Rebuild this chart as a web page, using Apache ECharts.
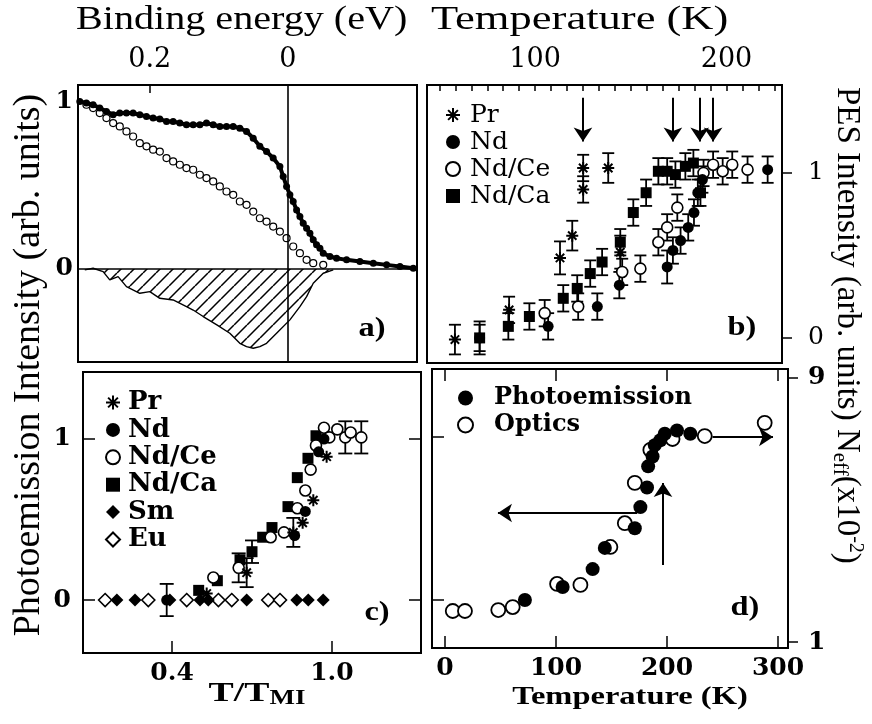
<!DOCTYPE html>
<html>
<head>
<meta charset="utf-8">
<script src="https://cdn.jsdelivr.net/npm/echarts@6/dist/echarts.min.js"></script>
<style>
  html, body { margin: 0; padding: 0; background: #fff; }
  #chart { width: 872px; height: 724px; }
</style>
</head>
<body>
<div id="chart"></div>
<script>
const TITLE_FONT = '"Liberation Serif", "Times New Roman", serif';
const LABEL_FONT = '"DejaVu Serif", serif';

// ---------- Panel a: spectra vs binding energy (eV) ----------
const aFilledE = [0.3014,0.2918,0.2821,0.2725,0.2628,0.2531,0.2435,0.2338,0.2242,0.2145,0.2048,0.1952,0.1855,0.1758,0.1662,0.1565,0.1469,0.1372,0.1275,0.1179,0.1082,0.0986,0.0889,0.0792,0.0696,0.0599,0.0502,0.0406,0.0309,0.0213,0.0116,0.0068,0.0019,-0.0029,-0.0077,-0.0126,-0.0174,-0.0222,-0.0271,-0.0319,-0.0367,-0.0415,-0.0464,-0.0512,-0.0609,-0.0705,-0.0850,-0.1043,-0.1237,-0.1430,-0.1623,-0.1816];
const aFilledI = [1.002,0.992,0.982,0.962,0.942,0.922,0.932,0.932,0.932,0.922,0.912,0.902,0.896,0.882,0.882,0.872,0.862,0.862,0.862,0.872,0.862,0.852,0.852,0.852,0.842,0.822,0.782,0.733,0.702,0.663,0.613,0.553,0.493,0.443,0.403,0.353,0.313,0.273,0.243,0.213,0.174,0.144,0.124,0.094,0.074,0.064,0.054,0.044,0.034,0.024,0.014,0.004];
const aOpenE = [0.2918,0.2821,0.2725,0.2628,0.2531,0.2435,0.2338,0.2242,0.2145,0.2048,0.1952,0.1855,0.1758,0.1662,0.1565,0.1469,0.1372,0.1275,0.1179,0.1082,0.0986,0.0889,0.0792,0.0696,0.0599,0.0502,0.0406,0.0309,0.0213,0.0116,0.0019,-0.0077,-0.0174,-0.0271,-0.0367,-0.0512];
const aOpenI = [0.982,0.962,0.932,0.902,0.872,0.852,0.822,0.792,0.752,0.733,0.713,0.702,0.663,0.643,0.623,0.603,0.593,0.563,0.543,0.523,0.493,0.463,0.443,0.403,0.383,0.343,0.303,0.283,0.253,0.223,0.184,0.134,0.094,0.054,0.034,0.024];
const aDiffE = [0.2942,0.2821,0.2676,0.2580,0.2459,0.2338,0.2145,0.2000,0.1855,0.1662,0.1469,0.1372,0.1227,0.1029,0.0841,0.0696,0.0599,0.0502,0.0406,0.0309,0.0164,-0.0029,-0.0174,-0.0271,-0.0367,-0.0512,-0.0657];
const aDiffI = [-0.006,0.004,-0.016,-0.066,-0.046,-0.106,-0.146,-0.136,-0.176,-0.186,-0.226,-0.246,-0.285,-0.335,-0.385,-0.445,-0.465,-0.475,-0.465,-0.445,-0.385,-0.305,-0.226,-0.166,-0.086,-0.026,-0.006];
const aTopLabels = [0.2, 0];
const aLeftLabels = [0, 1];

// ---------- Panel b: PES intensity vs temperature (K) ----------
const bPrT = [58.1, 86.4, 113, 119.4, 125.1, 125.1, 138.2, 144.5];
const bPrI = [-0.01, 0.17, 0.485, 0.62, 1.03, 0.90, 1.03, 0.52];
const bPrE = [0.09, 0.08, 0.10, 0.09, 0.08, 0.08, 0.09, 0.10];
const bNdT = [71, 106.8, 132.5, 144, 169, 172, 176, 180, 183, 185, 187.4, 221.5];
const bNdI = [0.0, 0.07, 0.19, 0.32, 0.43, 0.53, 0.59, 0.67, 0.76, 0.88, 0.96, 1.02];
const bNdE = [0.10, 0.08, 0.08, 0.08, 0.10, 0.08, 0.08, 0.08, 0.08, 0.08, 0.08, 0.08];
const bNdCeT = [105, 122.5, 145.5, 155, 164.4, 169, 174.3, 188, 193, 198, 203, 211];
const bNdCeI = [0.15, 0.19, 0.40, 0.42, 0.58, 0.67, 0.79, 1.0, 1.05, 1.01, 1.05, 1.02];
const bNdCeE = [0.08, 0.08, 0.08, 0.08, 0.08, 0.08, 0.08, 0.08, 0.08, 0.08, 0.08, 0.08];
const bNdCaT = [71, 86, 97, 114.7, 122, 128.8, 135, 144.5, 151.3, 158, 164.4, 169, 173.3, 178.5, 182.7, 186.4];
const bNdCaI = [0.0, 0.07, 0.13, 0.24, 0.30, 0.39, 0.46, 0.58, 0.76, 0.88, 1.01, 1.01, 0.99, 1.04, 1.06, 0.88];
const bNdCaE = [0.08, 0.08, 0.08, 0.08, 0.08, 0.08, 0.08, 0.08, 0.08, 0.08, 0.08, 0.08, 0.08, 0.08, 0.08, 0.08];
const bTransitionT = [125, 172, 186, 193];
const bTopLabels = [100, 200];
const bRightLabels = [0, 1];

// ---------- Panel c: intensity vs reduced temperature T/T_MI ----------
const cPrX = [0.53, 0.68, 0.855, 0.89, 0.93, 0.98];
const cPrI = [0.04, 0.17, 0.42, 0.48, 0.62, 0.89];
const cPrE = [0, 0.09, 0.09, 0, 0, 0];
const cNdX = [0.38, 0.86, 0.90, 0.95, 0.97];
const cNdI = [0.0, 0.40, 0.55, 0.92, 1.0];
const cNdE = [0.10, 0, 0, 0, 0];
const cNdCeX = [0.555, 0.65, 0.77, 0.82, 0.87, 0.90, 0.92, 0.94, 0.97, 0.99, 1.02, 1.05, 1.07, 1.11];
const cNdCeI = [0.14, 0.20, 0.39, 0.42, 0.57, 0.68, 0.81, 0.96, 1.07, 1.01, 1.06, 1.01, 1.04, 1.01];
const cNdCeE = [0, 0.09, 0, 0, 0, 0, 0, 0, 0, 0, 0, 0.10, 0, 0.10];
const cNdCaX = [0.50, 0.57, 0.655, 0.70, 0.74, 0.775, 0.835, 0.87, 0.91, 0.94];
const cNdCaI = [0.06, 0.12, 0.25, 0.30, 0.39, 0.45, 0.58, 0.76, 0.88, 1.02];
const cNdCaE = [0, 0, 0, 0.07, 0, 0, 0, 0, 0, 0];
const cSmX = [0.193, 0.261, 0.392, 0.505, 0.536, 0.680, 0.868, 0.911, 0.967];
const cSmI = [0, 0, 0, 0, 0, 0, 0, 0, 0];
const cEuX = [0.149, 0.311, 0.455, 0.574, 0.624, 0.761, 0.805];
const cEuI = [0, 0, 0, 0, 0, 0, 0];
const cBottomLabels = [0.4, 1.0];
const cLeftLabels = [0, 1];

// ---------- Panel d: photoemission and optical N_eff vs temperature ----------
const dPhotoT = [72, 106, 133, 144, 171, 176, 182, 183, 187, 189, 194, 198, 209, 221];
const dPhotoI = [0.0, 0.08, 0.19, 0.32, 0.44, 0.57, 0.69, 0.82, 0.88, 0.95, 0.98, 1.02, 1.04, 1.02];
const dOptT = [7, 18, 48, 61, 101, 122, 149, 162, 171, 185, 205, 234, 288];
const dOptN = [1.94, 1.94, 1.97, 2.06, 2.76, 2.73, 3.88, 4.6, 5.82, 6.82, 7.15, 7.24, 7.64];
const dBottomLabels = [0, 100, 200, 300];
const dRightLabels = [1, 9];
// arrows: [T start, value start, T end, value end] in photoemission units
const dArrows = [[173, 0.534, 47.7, 0.534], [196.4, 0.215, 196.4, 0.718], [241, 1.0, 295.5, 1.0]];

// ---------- helpers ----------
const pairs = (xs, ys) => xs.map((x, i) => [x, ys[i]]);
const triples = (xs, ys, es) => xs.map((x, i) => [x, ys[i], es[i]]).filter(d => d[2] > 0);

function hatchPattern(step) {
  const c = document.createElement('canvas');
  c.width = step; c.height = step;
  const g = c.getContext('2d');
  g.strokeStyle = '#000'; g.lineWidth = 1.5;
  g.beginPath();
  for (let k = -1; k <= 1; k++) { g.moveTo(k * step, step); g.lineTo(k * step + step, 0); }
  g.stroke();
  return c;
}

function errorBars(capHalf) {
  return function (params, api) {
    const x = api.value(0), y = api.value(1), e = api.value(2);
    const lo = api.coord([x, y - e]), hi = api.coord([x, y + e]);
    const st = { stroke: '#000', lineWidth: 1.8 };
    return { type: 'group', children: [
      { type: 'line', shape: { x1: lo[0], y1: lo[1], x2: hi[0], y2: hi[1] }, style: st },
      { type: 'line', shape: { x1: lo[0] - capHalf, y1: lo[1], x2: lo[0] + capHalf, y2: lo[1] }, style: st },
      { type: 'line', shape: { x1: hi[0] - capHalf, y1: hi[1], x2: hi[0] + capHalf, y2: hi[1] }, style: st }
    ]};
  };
}

const STAR = 'path://M0,-10L0,10M-10,0L10,0M-7,-7L7,7M-7,7L7,-7';
const BLACK = { color: '#000', opacity: 1 };
const OPEN = { color: '#fff', borderColor: '#000', borderWidth: 1.6, opacity: 1 };
const STARSTYLE = { color: '#000', borderColor: '#000', borderWidth: 2, opacity: 1 };

function mk(name, type, xi, yi, data, symbol, size, style, extra) {
  return Object.assign({ name, type, xAxisIndex: xi, yAxisIndex: yi, data, symbol, symbolSize: size, itemStyle: style, z: 3 }, extra || {});
}
function eb(xi, yi, data, cap) {
  return { type: 'custom', xAxisIndex: xi, yAxisIndex: yi, data, renderItem: errorBars(cap), z: 2, silent: true };
}

const tickLine = { color: '#000', width: 1.5 };
function valueAxis(o) {
  return Object.assign({ type: 'value', axisLine: { show: false, onZero: false }, splitLine: { show: false },
    axisTick: { show: false }, axisLabel: { show: false } }, o);
}
function ticks(values, inside, length) {
  return { show: true, inside, length, customValues: values, lineStyle: tickLine };
}
function labels(values, margin, size, weight, fmt) {
  const l = { show: true, customValues: values, margin, fontSize: size, fontWeight: weight, fontFamily: LABEL_FONT, color: '#000' };
  if (fmt) l.formatter = fmt;
  return l;
}

// minor ticks along the temperature scale of panel b: twelve per 100 K
const bTopTicks = [];
for (let k = -6; k <= 15; k++) bTopTicks.push(100 + k * 100 / 12);

const chart = echarts.init(document.getElementById('chart'), null, { renderer: 'canvas' });

const frame = { show: true, borderColor: '#000', borderWidth: 2, backgroundColor: 'transparent' };

const option = {
  animation: false,
  backgroundColor: '#fff',
  grid: [
    Object.assign({ left: 78, top: 85, width: 339, height: 277 }, frame),
    Object.assign({ left: 427, top: 85, width: 355, height: 278 }, frame),
    Object.assign({ left: 83, top: 372, width: 338, height: 281 }, frame),
    Object.assign({ left: 432, top: 369, width: 356, height: 279 }, frame)
  ],
  xAxis: [
    valueAxis({ gridIndex: 0, position: 'top', inverse: true, min: -0.187, max: 0.304,
      axisTick: ticks([0.2], true, 8),
      axisLabel: labels(aTopLabels, 12, 27, 'normal', v => (v === 0 ? '0' : v.toFixed(1))) }),
    valueAxis({ gridIndex: 1, position: 'top', min: 43.5, max: 229,
      axisTick: ticks(bTopTicks, true, 6),
      axisLabel: labels(bTopLabels, 12, 27, 'normal') }),
    valueAxis({ gridIndex: 2, position: 'bottom', min: 0.066, max: 1.334,
      axisTick: ticks(cBottomLabels, true, 12),
      axisLabel: labels(cBottomLabels, 8, 25, 'bold', v => v.toFixed(1)) }),
    valueAxis({ gridIndex: 3, position: 'bottom', min: -11.7, max: 309,
      axisTick: ticks(dBottomLabels, true, 12),
      axisLabel: labels(dBottomLabels, 8, 25, 'bold') }),
    valueAxis({ gridIndex: 3, position: 'top', min: -11.7, max: 309,
      axisTick: ticks(dBottomLabels, true, 12) })
  ],
  yAxis: [
    valueAxis({ gridIndex: 0, position: 'left', min: -0.557, max: 1.10,
      axisLabel: labels(aLeftLabels, 5, 25, 'bold') }),
    valueAxis({ gridIndex: 1, position: 'right', min: -0.152, max: 1.533,
      axisTick: ticks(bRightLabels, false, 10),
      axisLabel: labels(bRightLabels, 26, 25, 'normal') }),
    valueAxis({ gridIndex: 2, position: 'left', min: -0.329, max: 1.416,
      axisTick: ticks(cLeftLabels, true, 12),
      axisLabel: labels(cLeftLabels, 12, 25, 'bold') }),
    valueAxis({ gridIndex: 2, position: 'right', min: -0.329, max: 1.416,
      axisTick: ticks(cLeftLabels, true, 12) }),
    valueAxis({ gridIndex: 3, position: 'left', min: -0.294, max: 1.417,
      axisTick: ticks([0, 1], true, 12) }),
    valueAxis({ gridIndex: 3, position: 'right', min: 0.82, max: 9.27,
      axisTick: ticks(dRightLabels, false, 10),
      axisLabel: labels(dRightLabels, 20, 25, 'bold') })
  ],
  legend: [
    { data: ['Pr', 'Nd', 'Nd/Ce', 'Nd/Ca'], orient: 'vertical', left: 445, top: 102, padding: 0,
      itemWidth: 14, itemHeight: 14, itemGap: 1, selectedMode: false,
      textStyle: { fontFamily: LABEL_FONT, fontSize: 25, lineHeight: 26, color: '#000', padding: [0, 0, 0, 5] } },
    { data: ['Pr', 'Nd', 'Nd/Ce', 'Nd/Ca', 'Sm', 'Eu'], orient: 'vertical', left: 105, top: 389, padding: 0,
      itemWidth: 14, itemHeight: 14, itemGap: 0.4, selectedMode: false,
      textStyle: { fontFamily: LABEL_FONT, fontSize: 26, fontWeight: 'bold', lineHeight: 27, color: '#000', padding: [0, 0, 0, 3] } },
    { data: ['Photoemission', 'Optics'], orient: 'vertical', left: 457, top: 386, padding: 0,
      itemWidth: 15, itemHeight: 15, itemGap: 3, selectedMode: false,
      textStyle: { fontFamily: LABEL_FONT, fontSize: 24, fontWeight: 'bold', lineHeight: 24, color: '#000', padding: [0, 0, 0, 16] } }
  ],
  series: [
    // panel a: difference spectrum (hatched), then the two spectra
    { type: 'line', xAxisIndex: 0, yAxisIndex: 0, data: pairs(aDiffE, aDiffI), symbol: 'none',
      lineStyle: { color: '#000', width: 1.4 },
      areaStyle: { color: { image: hatchPattern(13), repeat: 'repeat' }, opacity: 1, origin: 0 }, z: 1,
      markLine: { silent: true, symbol: 'none', label: { show: false },
        lineStyle: { color: '#000', width: 1.6, type: 'solid' }, data: [{ yAxis: 0 }, { xAxis: 0 }] } },
    { type: 'scatter', xAxisIndex: 0, yAxisIndex: 0, data: pairs(aOpenE, aOpenI), symbol: 'circle', symbolSize: 7,
      itemStyle: { color: '#fff', borderColor: '#000', borderWidth: 1.2, opacity: 1 }, z: 3 },
    { type: 'line', xAxisIndex: 0, yAxisIndex: 0, data: pairs(aFilledE, aFilledI), symbol: 'circle', symbolSize: 7,
      showSymbol: true, lineStyle: { color: '#000', width: 4 }, itemStyle: BLACK, z: 4 },

    // panel b
    eb(1, 1, triples(bPrT, bPrI, bPrE), 6),
    eb(1, 1, triples(bNdT, bNdI, bNdE), 6),
    eb(1, 1, triples(bNdCeT, bNdCeI, bNdCeE), 6),
    eb(1, 1, triples(bNdCaT, bNdCaI, bNdCaE), 6),
    mk('Nd/Ca', 'scatter', 1, 1, pairs(bNdCaT, bNdCaI), 'rect', 11, BLACK),
    mk('Nd/Ce', 'scatter', 1, 1, pairs(bNdCeT, bNdCeI), 'circle', 11, OPEN),
    mk('Nd', 'scatter', 1, 1, pairs(bNdT, bNdI), 'circle', 11, BLACK),
    mk('Pr', 'scatter', 1, 1, pairs(bPrT, bPrI), STAR, 12, STARSTYLE, {
      markLine: { silent: true, symbol: ['none', 'arrow'], symbolSize: 14, label: { show: false },
        lineStyle: { color: '#000', width: 2, type: 'solid' },
        data: bTransitionT.map(t => [{ coord: [t, 1.455] }, { coord: [t, 1.19] }]) } }),

    // panel c
    eb(2, 2, triples(cPrX, cPrI, cPrE), 7),
    eb(2, 2, triples(cNdX, cNdI, cNdE), 7),
    eb(2, 2, triples(cNdCeX, cNdCeI, cNdCeE), 7),
    eb(2, 2, triples(cNdCaX, cNdCaI, cNdCaE), 7),
    mk('Eu', 'scatter', 2, 2, pairs(cEuX, cEuI), 'diamond', 13, OPEN),
    mk('Sm', 'scatter', 2, 2, pairs(cSmX, cSmI), 'diamond', 13, BLACK),
    mk('Nd/Ca', 'scatter', 2, 2, pairs(cNdCaX, cNdCaI), 'rect', 11, BLACK),
    mk('Nd/Ce', 'scatter', 2, 2, pairs(cNdCeX, cNdCeI), 'circle', 11, OPEN),
    mk('Nd', 'scatter', 2, 2, pairs(cNdX, cNdI), 'circle', 11, BLACK),
    mk('Pr', 'scatter', 2, 2, pairs(cPrX, cPrI), STAR, 12, STARSTYLE),

    // panel d
    mk('Optics', 'scatter', 3, 5, pairs(dOptT, dOptN), 'circle', 14, { color: '#fff', borderColor: '#000', borderWidth: 1.8, opacity: 1 }),
    mk('Photoemission', 'scatter', 3, 4, pairs(dPhotoT, dPhotoI), 'circle', 14, BLACK, {
      markLine: { silent: true, symbol: ['none', 'arrow'], symbolSize: 14, label: { show: false },
        lineStyle: { color: '#000', width: 2, type: 'solid' },
        data: dArrows.map(a => [{ coord: [a[0], a[1]] }, { coord: [a[2], a[3]] }]) } })
  ],
  graphic: [
    { type: 'text', x: 76, y: 20, scaleX: 1.18,
      style: { text: 'Binding energy (eV)', font: '34px ' + TITLE_FONT, fill: '#000', align: 'left', verticalAlign: 'middle' } },
    { type: 'text', x: 431, y: 20, scaleX: 1.31,
      style: { text: 'Temperature (K)', font: '34px ' + TITLE_FONT, fill: '#000', align: 'left', verticalAlign: 'middle' } },
    { type: 'text', x: 29, y: 365, rotation: Math.PI / 2,
      style: { text: 'Photoemission Intensity (arb. units)', font: '38px ' + TITLE_FONT, fill: '#000', align: 'center', verticalAlign: 'middle' } },
    { type: 'text', x: 847, y: 87, rotation: -Math.PI / 2,
      style: { text: 'PES Intensity (arb. units) N{sub|eff}(x10{sup|-2})', font: '33px ' + TITLE_FONT, fill: '#000',
        align: 'left', verticalAlign: 'middle', lineHeight: 36,
        rich: { sub: { fontSize: 21, fontFamily: TITLE_FONT, verticalAlign: 'bottom', lineHeight: 36 },
                sup: { fontSize: 20, fontFamily: TITLE_FONT, verticalAlign: 'top', lineHeight: 36 } } } },
    { type: 'text', x: 257, y: 694, scaleX: 1.35,
      style: { text: 'T/T{sub|MI}', font: 'bold 28px ' + TITLE_FONT, fill: '#000', align: 'center', verticalAlign: 'middle', lineHeight: 30,
        rich: { sub: { fontSize: 20, fontWeight: 'bold', fontFamily: TITLE_FONT, verticalAlign: 'bottom', lineHeight: 30 } } } },
    { type: 'text', x: 630, y: 697, scaleX: 1.25,
      style: { text: 'Temperature (K)', font: 'bold 26px ' + TITLE_FONT, fill: '#000', align: 'center', verticalAlign: 'middle' } },
    { type: 'text', x: 372, y: 329, scaleX: 1.2, style: { text: 'a)', font: 'bold 27px ' + TITLE_FONT, fill: '#000', align: 'center', verticalAlign: 'middle' } },
    { type: 'text', x: 742, y: 328, scaleX: 1.2, style: { text: 'b)', font: 'bold 27px ' + TITLE_FONT, fill: '#000', align: 'center', verticalAlign: 'middle' } },
    { type: 'text', x: 377, y: 613, scaleX: 1.2, style: { text: 'c)', font: 'bold 27px ' + TITLE_FONT, fill: '#000', align: 'center', verticalAlign: 'middle' } },
    { type: 'text', x: 745, y: 608, scaleX: 1.2, style: { text: 'd)', font: 'bold 27px ' + TITLE_FONT, fill: '#000', align: 'center', verticalAlign: 'middle' } }
  ]
};

chart.setOption(option);
</script>
</body>
</html>
